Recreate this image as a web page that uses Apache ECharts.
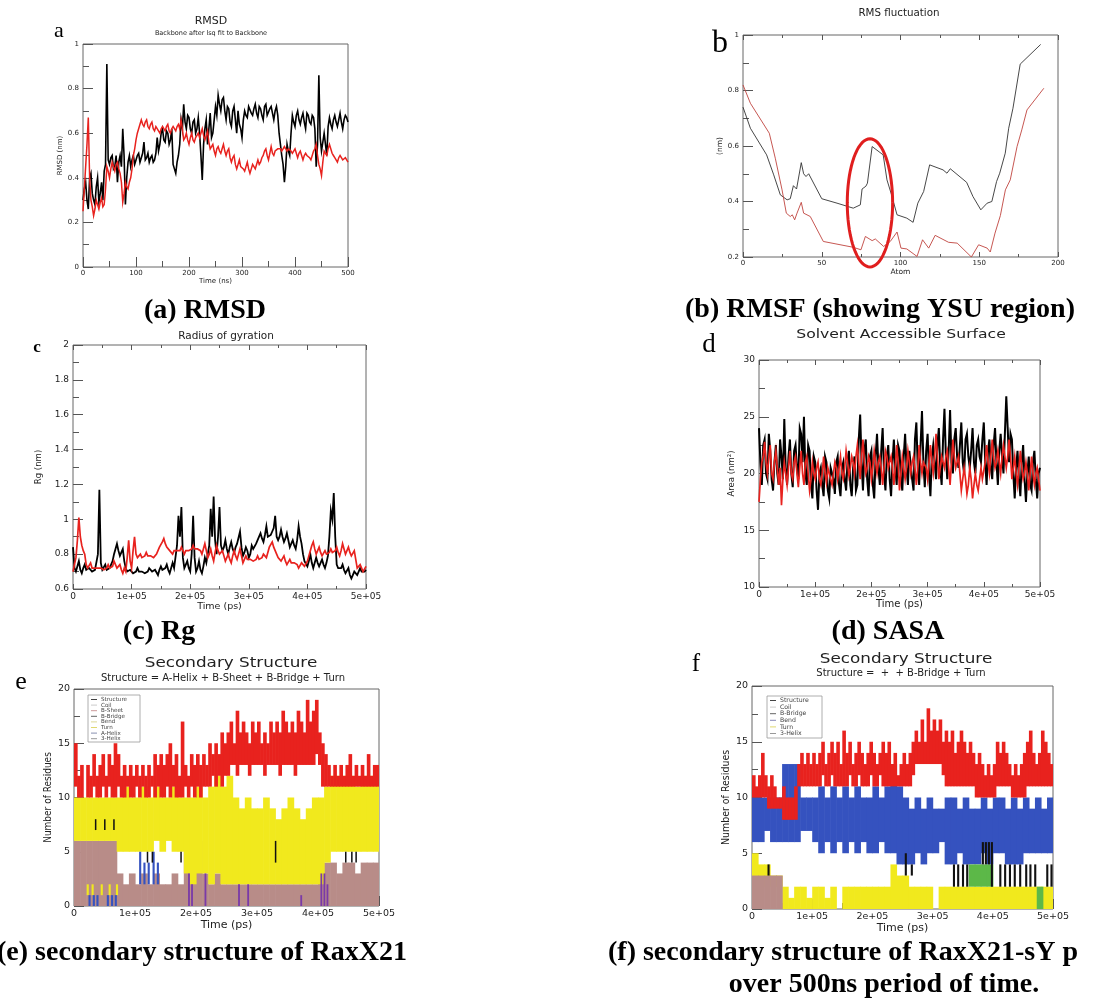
<!DOCTYPE html>
<html><head><meta charset="utf-8">
<script src="https://cdn.jsdelivr.net/npm/echarts@6/dist/echarts.min.js"></script>
<style>html,body{margin:0;padding:0;background:#fff}#c{width:1093px;height:1000px}</style>
</head><body><div id="c"></div>
<script>
// ---------------- DATA ----------------
// (a) RMSD, nm: samples every 5 ns (0..500), plus in-between samples at 2.5 + every 5 ns
const rmsdStepNs = 5;
const rmsdBlack = [0.30,0.38,0.26,0.42,0.30,0.36,0.29,0.38,0.43,0.91, 0.46,0.50,0.45,0.38,0.50,0.62,0.28,0.47,0.45,0.50,
  0.48,0.51,0.47,0.56,0.49,0.47,0.50,0.48,0.58,0.55, 0.62,0.56,0.60,0.57,0.46,0.42,0.50,0.66,0.73,0.62,
  0.67,0.60,0.66,0.62,0.60,0.39,0.62,0.55,0.69,0.60, 0.72,0.77,0.70,0.76,0.66,0.71,0.63,0.72,0.60,0.64,
  0.58,0.70,0.67,0.72,0.68,0.73,0.67,0.71,0.66,0.73, 0.68,0.72,0.66,0.72,0.60,0.50,0.38,0.55,0.50,0.68,
  0.63,0.70,0.64,0.69,0.62,0.68,0.64,0.67,0.45,0.86, 0.52,0.60,0.50,0.67,0.62,0.68,0.63,0.69,0.62,0.68, 0.65];
const rmsdBlackMid = [0.35,0.30,0.40,0.33,0.28,0.40,0.33,0.30,0.46,0.48, 0.49,0.44,0.50,0.47,0.45,0.50,0.40,0.50,0.48,0.46,
  0.50,0.47,0.51,0.48,0.51,0.49,0.47,0.51,0.52,0.60, 0.57,0.61,0.55,0.62,0.44,0.47,0.55,0.62,0.65,0.68,
  0.62,0.65,0.60,0.67,0.50,0.55,0.66,0.62,0.58,0.66, 0.68,0.73,0.75,0.70,0.72,0.65,0.70,0.66,0.70,0.62,
  0.66,0.68,0.72,0.69,0.71,0.69,0.72,0.68,0.72,0.68, 0.71,0.69,0.70,0.68,0.55,0.46,0.45,0.52,0.60,0.65,
  0.68,0.66,0.67,0.65,0.69,0.65,0.68,0.62,0.55,0.58, 0.56,0.55,0.63,0.64,0.66,0.65,0.66,0.65,0.66,0.67];
const rmsdRed = [0.25,0.45,0.67,0.30,0.23,0.30,0.26,0.31,0.28,0.45, 0.40,0.47,0.43,0.47,0.42,0.29,0.38,0.35,0.40,0.50,
  0.57,0.62,0.66,0.63,0.66,0.62,0.65,0.61,0.63,0.60, 0.63,0.61,0.64,0.60,0.63,0.61,0.64,0.66,0.57,0.60,
  0.55,0.60,0.56,0.59,0.58,0.62,0.57,0.61,0.53,0.55, 0.50,0.54,0.51,0.55,0.50,0.53,0.47,0.50,0.44,0.48,
  0.45,0.43,0.47,0.42,0.46,0.44,0.48,0.47,0.50,0.53, 0.48,0.54,0.50,0.52,0.53,0.52,0.54,0.52,0.53,0.51,
  0.53,0.49,0.52,0.48,0.51,0.50,0.48,0.52,0.55,0.46, 0.41,0.52,0.50,0.55,0.51,0.49,0.47,0.50,0.48,0.49, 0.47];
const rmsdRedMid = [0.35,0.55,0.40,0.27,0.26,0.28,0.29,0.27,0.35,0.43, 0.44,0.45,0.46,0.44,0.38,0.33,0.36,0.38,0.44,0.53,
  0.60,0.64,0.64,0.65,0.63,0.64,0.62,0.63,0.61,0.62, 0.62,0.63,0.61,0.62,0.62,0.63,0.62,0.62,0.58,0.57,
  0.58,0.57,0.58,0.60,0.60,0.59,0.59,0.56,0.54,0.52, 0.53,0.52,0.53,0.52,0.52,0.49,0.49,0.46,0.46,0.45,
  0.44,0.45,0.44,0.44,0.45,0.46,0.46,0.49,0.52,0.50, 0.51,0.51,0.52,0.53,0.53,0.53,0.53,0.53,0.52,0.52,
  0.51,0.51,0.50,0.50,0.50,0.49,0.50,0.53,0.50,0.44, 0.47,0.51,0.53,0.53,0.50,0.48,0.49,0.49,0.48,0.48];

// (b) RMSF, [atom, nm]
const rmsfBlack = [[0,0.74],[4.7,0.664],[15,0.568],[19.5,0.496],[23.7,0.424],[28,0.406],[30,0.41],[32,0.457],[34,0.445],
  [37,0.54],[38.5,0.50],[40,0.49],[41.7,0.50],[50,0.41],[59.7,0.394],[70,0.376],[74.5,0.388],[75.6,0.445],[78,0.455],
  [79,0.466],[82,0.598],[89,0.568],[91.4,0.478],[94,0.43],[97.8,0.352],[104,0.34],[108,0.325],[111,0.394],[114.7,0.436],
  [118.5,0.532],[127,0.514],[129.5,0.502],[131.6,0.518],[142,0.469],[146,0.418],[151,0.37],[155,0.394],[158,0.40],
  [161,0.472],[163,0.502],[166.5,0.574],[168.7,0.664],[171.4,0.736],[176,0.895],[189,0.966]];
const rmsfRed = [[0,0.82],[4.7,0.754],[16.7,0.646],[20.5,0.556],[24.8,0.442],[27.5,0.358],[30,0.346],[31.3,0.352],[32.8,0.334],
  [34.3,0.358],[37,0.397],[38.5,0.358],[42.7,0.346],[51,0.256],[70,0.235],[74.9,0.226],[77.7,0.274],[82,0.259],[84,0.265],
  [89.3,0.238],[93.5,0.256],[97.8,0.29],[100.3,0.232],[104,0.229],[110.5,0.202],[114,0.262],[117.9,0.232],[122,0.278],
  [130.5,0.253],[136,0.25],[145,0.2],[149.6,0.244],[155,0.232],[157,0.218],[160,0.286],[163.4,0.349],[166.6,0.442],
  [169.7,0.478],[174,0.598],[177,0.658],[180.3,0.73],[191,0.808]];
// highlighted YSU region: [centre atom, centre nm, half-width atoms, half-height nm]
const ysuEllipse = [80.6, 0.395, 14.4, 0.231];

// (c) Rg, nm: samples every 5000 ps, plus in-between samples at 2500 + every 5000 ps
const psStep = 5000;
const rgBlack = [0.84,0.70,0.76,0.69,0.74,0.70,0.73,0.69,0.72,1.17, 0.71,0.74,0.70,0.73,0.80,0.86,0.79,0.83,0.72,0.69,
  0.71,0.68,0.72,0.69,0.71,0.68,0.72,0.70,0.71,0.68, 0.73,0.70,0.74,0.69,0.75,0.71,1.02,1.07,0.72,0.76,
  0.70,1.02,0.70,0.76,0.69,0.78,0.74,1.06,1.13,0.80, 1.07,0.82,0.88,0.80,0.87,0.81,0.86,0.93,0.79,0.84,
  0.78,0.85,0.82,0.88,0.92,0.87,0.96,0.89,0.93,1.02, 0.88,0.94,0.87,0.92,0.84,0.88,0.83,0.96,0.86,0.76,
  0.73,0.80,0.72,0.78,0.73,0.77,0.72,0.79,1.05,1.15, 0.74,0.71,0.74,0.69,0.72,0.66,0.70,0.68,0.72,0.69, 0.71];
const rgBlackMid = [0.72,0.73,0.71,0.72,0.71,0.72,0.70,0.71,0.80,0.75, 0.72,0.71,0.72,0.76,0.83,0.82,0.81,0.76,0.70,0.71,
  0.69,0.70,0.70,0.70,0.69,0.70,0.71,0.69,0.70,0.71, 0.71,0.72,0.71,0.72,0.72,0.85,0.90,0.78,0.73,0.72,
  0.80,0.78,0.72,0.71,0.73,0.75,0.85,0.90,0.88,0.90, 0.85,0.84,0.83,0.84,0.83,0.84,0.87,0.84,0.81,0.82,
  0.80,0.83,0.86,0.90,0.89,0.91,0.90,0.91,0.95,0.90, 0.90,0.90,0.89,0.88,0.86,0.85,0.88,0.90,0.80,0.75,
  0.76,0.75,0.75,0.75,0.75,0.74,0.75,0.90,1.00,0.90, 0.72,0.72,0.71,0.70,0.68,0.68,0.69,0.70,0.70,0.70];
const rgRed = [0.70,0.78,1.01,0.85,0.80,0.72,0.75,0.71,0.73,0.71, 0.73,0.70,0.74,0.71,0.76,0.72,0.74,0.69,0.70,0.88,
  0.72,0.90,0.78,0.80,0.77,0.81,0.78,0.80,0.79,0.82, 0.85,0.89,0.84,0.82,0.80,0.83,0.81,0.84,0.80,0.83,
  0.81,0.85,0.82,0.84,0.80,0.86,0.78,0.83,0.76,0.85, 0.80,0.82,0.76,0.80,0.75,0.82,0.77,0.83,0.75,0.79,
  0.76,0.78,0.75,0.79,0.76,0.80,0.78,0.84,0.87,0.82, 0.78,0.76,0.79,0.74,0.77,0.74,0.76,0.72,0.75,0.73,
  0.76,0.82,0.87,0.80,0.84,0.79,0.82,0.79,0.83,0.80, 0.84,0.79,0.86,0.80,0.84,0.79,0.82,0.72,0.74,0.70, 0.73];
const rgRedMid = [0.74,0.88,0.90,0.82,0.74,0.73,0.72,0.72,0.72,0.72, 0.71,0.72,0.72,0.73,0.74,0.73,0.71,0.72,0.78,0.76,
  0.82,0.80,0.79,0.78,0.79,0.79,0.79,0.78,0.80,0.84, 0.87,0.86,0.83,0.81,0.82,0.82,0.82,0.82,0.82,0.82,
  0.83,0.83,0.83,0.82,0.83,0.82,0.80,0.79,0.81,0.82, 0.81,0.79,0.78,0.77,0.79,0.79,0.80,0.79,0.77,0.77,
  0.77,0.76,0.77,0.77,0.78,0.79,0.81,0.85,0.84,0.80, 0.77,0.77,0.76,0.75,0.75,0.75,0.74,0.73,0.74,0.74,
  0.79,0.85,0.83,0.82,0.81,0.80,0.80,0.81,0.81,0.82, 0.81,0.82,0.83,0.82,0.81,0.80,0.77,0.73,0.72,0.71];

// (d) SASA, nm^2: samples at every 5000 ps, plus in-between samples at 2500 + every 5000 ps
const sasaBlack = [24.0,19.0,23.0,19.5,22.0,18.5,22.5,19.0,21.5,24.8, 19.0,23.0,18.8,22.5,19.5,23.5,25.0,19.0,22.0,17.8,
  21.0,16.8,20.5,18.0,21.0,17.8,20.5,18.2,21.5,18.0, 21.0,18.5,22.0,18.0,21.5,19.0,25.2,18.5,23.0,18.0,
  22.0,17.8,23.5,19.0,24.0,18.5,22.5,18.0,23.0,19.0, 22.0,18.5,23.5,19.0,22.0,18.5,24.5,19.0,25.5,18.8,
  23.5,18.0,22.5,19.5,24.0,19.0,25.7,19.5,25.6,20.0, 24.0,20.5,24.5,20.0,23.5,20.5,24.0,20.0,23.0,21.0,
  24.5,19.0,23.0,19.5,24.0,19.0,23.5,20.0,26.8,21.0, 23.0,17.8,22.0,18.0,22.5,17.5,21.5,18.5,22.0,17.8, 20.5];
const sasaBlackMid = [21.0,22.5,20.0,23.5,19.5,21.0,20.0,23.0,19.5,20.5, 21.5,20.0,22.0,20.5,24.0,21.0,20.0,22.5,19.0,21.5,
  18.5,20.0,19.0,21.5,18.5,20.5,19.5,21.0,19.0,20.5, 19.5,21.0,19.0,20.5,18.5,23.0,21.0,22.0,19.5,21.5,
  19.0,21.5,20.5,22.0,20.0,21.5,19.5,21.0,20.5,22.5, 19.5,21.5,20.5,22.0,19.5,23.0,20.5,22.5,21.0,22.0,
  20.0,21.5,21.0,22.5,20.5,23.0,21.5,22.0,21.0,23.0, 21.5,22.5,21.0,23.0,21.5,22.0,21.0,22.5,21.5,23.0,
  21.0,22.0,20.5,22.5,21.0,22.0,21.5,23.5,24.0,23.5, 20.0,20.5,19.5,21.0,19.5,20.0,19.0,21.0,19.5,20.0];
const sasaRed = [17.5,21.0,22.8,20.0,22.5,19.5,22.0,19.0,17.2,21.0, 19.0,22.0,19.5,21.5,18.8,22.0,19.0,21.5,18.5,21.0,
  19.5,21.0,19.0,21.5,19.2,20.5,19.0,21.0,19.5,21.5, 19.5,22.0,19.8,21.5,20.0,22.5,19.5,23.0,20.0,21.5,
  19.5,22.0,20.0,21.5,19.0,22.0,20.5,21.5,19.0,22.5, 18.5,21.5,19.5,22.0,20.0,21.5,19.0,22.5,20.0,21.0,
  19.5,22.5,20.0,23.5,19.5,21.5,20.5,22.0,19.0,23.0, 20.5,21.5,18.5,20.5,18.2,20.5,17.8,20.0,18.5,20.5,
  19.5,22.5,20.0,23.0,20.5,22.0,20.0,22.5,20.5,23.0, 19.5,21.5,19.0,22.0,19.5,21.0,18.5,21.5,19.0,20.5, 18.5];
const sasaRedMid = [19.5,21.5,21.0,21.5,20.0,21.0,20.5,20.5,19.5,20.0, 20.5,20.0,21.0,20.0,20.5,20.0,21.0,20.0,19.5,20.0,
  20.5,19.5,20.0,20.0,20.5,19.5,20.0,20.5,20.5,20.0, 20.5,21.0,20.5,21.0,21.5,21.0,21.5,21.0,20.5,21.0,
  20.5,21.0,21.0,20.5,20.5,21.5,21.0,20.5,20.5,21.0, 20.0,20.5,20.5,21.0,21.0,20.5,20.5,21.0,21.0,20.5,
  21.0,21.0,21.5,21.5,20.5,21.0,21.5,20.5,21.0,21.5, 21.0,20.0,19.5,19.5,19.0,19.5,19.0,19.0,19.5,19.5,
  21.0,21.0,21.5,21.5,21.0,21.0,21.5,21.5,21.5,21.5, 20.5,20.0,20.5,20.5,20.0,20.0,20.0,20.0,20.0,19.5];

// (e) secondary structure of RaxX21 — residue counts; fine bins 5000 ps, coarse bins 10000 ps
const fineBin = 5000, coarseBin = 10000;
const eRedHi = [15,12,13,11,13,12,14,12,13,14, 12,14,13,15,14,12,13,12,13,12, 13,12,13,12,13,12,14,13,14,13,
  14,15,13,14,12,17,13,12,14,13, 14,13,14,13,15,14,15,14,16,15, 16,17,15,18,16,17,16,15,17,16,
  17,15,16,15,17,16,17,16,18,17, 16,17,16,18,17,16,19,17,18,19, 16,15,14,13,12,13,12,13,12,13,
  14,12,13,12,13,12,14,12,13,13];
const eRedLo = [11,10,10,11,10,10,11,10,10,11, 10,11,10,10,11,10,10,11,10,10, 11,10,11,10,10,11,10,11,10,10,
  11,10,11,10,10,10,11,10,11,10, 11,10,11,11,11,12,11,12,11,12, 12,13,13,12,13,13,13,12,13,13,
  13,13,12,13,13,13,13,12,13,13, 13,13,12,13,13,13,13,13,13,14, 13,11,11,11,11,11,11,11,11,11,
  11,11,11,11,11,11,11,11,11,11];
const eYellowLo = [6,6,6,6,6,6,6,5,5,5, 5,5,5,6,5,6,5,5,3,2, 3,3,2,3,2,2,2,2,2,2, 2,2,2,2,2,2,2,2,2,2, 2,4,5,5,5,5,5,5,5,5];
const eYellowHi = [10,10,10,10,10,10,10,10,11,10, 10,11,10,11,10,10,11,10,10,10, 11,10,11,12,11,12,10,9,10,9,
  9,10,9,8,9,10,9,8,9,10, 10,11,12,12,12,12,11,12,12,12];
const eBrownHi = [6,6,6,6,6,6,6,3,2,3, 2,3,2,3,2,2,3,2,5,7, 6,3,2,3,2,2,2,2,2,2, 2,2,2,2,2,2,2,2,2,2, 3,4,4,3,4,4,3,4,4,4];
// sparse strokes: [time ps, low, high]
const eYellowBits = [[22000,1,2],[30000,1,2],[45000,1,2],[58000,1,2],[70000,1,2]];
const eBlueBits = [[25000,0,1],[32000,0,1],[38000,0,1],[55000,0,1],[62000,0,1],[68000,0,1],
  [108000,2,5],[115000,2,4],[122000,2,4],[130000,2,5],[137000,2,4]];
const ePurpleBits = [[188000,0,3],[193000,0,2],[215000,0,3],[270000,0,2],[285000,0,2],[372000,0,1],
  [405000,0,3],[410000,0,3],[415000,0,2]];
const eBlackBits = [[35000,7,8],[50000,7,8],[65000,7,8],[120000,4,5],[128000,4,5],[175000,4,5],
  [330000,4,6],[445000,4,5],[455000,4,5],[462000,4,5]];

// (f) secondary structure of RaxX21-sY
const fRedHi = [12,11,12,14,12,11,12,11,10,10, 11,10,10,10,11,13,14,13,14,13, 14,13,14,15,13,14,15,14,15,13,
  16,14,15,13,14,15,14,13,14,15, 14,13,14,15,14,15,13,14,12,13, 14,13,14,15,16,15,17,15,18,16,
  17,16,17,15,16,15,16,14,15,16, 15,14,15,14,13,14,13,12,13,12, 13,15,14,15,14,13,12,13,12,13,
  14,15,16,14,13,14,16,15,14,13];
const fRedLo = [10,10,10,10,10,9,9,9,9,9, 8,8,8,8,8,11,11,11,11,11, 11,11,11,12,11,11,12,11,11,11,
  11,11,12,11,11,12,11,11,11,12, 11,11,12,11,11,11,11,11,11,11, 11,11,11,12,13,13,13,13,13,13,
  13,13,13,12,11,11,11,11,11,11, 11,11,11,11,10,10,10,10,10,10, 10,11,11,11,11,11,10,10,10,10,
  10,11,11,11,11,11,11,11,11,11];
const fBlueLo = [6,6,7,6,6,6,6,6,7,7, 6,5,6,5,6,5,6,5,6,5, 5,6,5,5,4,4,4,5,4,5, 5,6,4,4,5,4,4,4,5,4, 5,5,4,4,4,5,5,5,5,5];
const fBlueHi = [10,10,10,10,10,13,13,13,10,10, 10,11,10,11,10,11,10,11,10,10, 11,10,11,13,11,10,9,10,9,10,
  9,9,10,10,9,10,9,9,10,9, 10,10,9,10,9,10,9,10,9,10];
const fYellowLo = [0,2,2,2,2,0,0,0,0,0, 0,0,0,0,0,0,0,0,0,0, 0,0,0,0,0,0,0,0,0,0, 0,0,0,0,0,0,0,0,0,0, 0,0,0,0,0,0,0,0,0,0];
const fYellowHi = [5,4,4,3,3,2,1,2,2,1, 2,2,1,2,0,2,2,2,2,2, 2,2,2,4,3,3,2,2,2,2, 0,2,2,2,2,2,2,2,2,2, 2,2,2,2,2,2,2,2,2,2];
const fBrownHi = [3,3,3,3,3,0,0,0,0,0, 0,0,0,0,0,0,0,0,0,0, 0,0,0,0,0,0,0,0,0,0, 0,0,0,0,0,0,0,0,0,0, 0,0,0,0,0,0,0,0,0,0];
const fGreenBits = [[365000,2,4],[375000,2,4],[385000,2,4],[395000,2,4],[478000,0,2]];
const fBlackBits = [[27000,3,4],[255000,3,5],[265000,3,4],[335000,2,4],[342000,2,4],[350000,2,4],[357000,2,4],
  [383000,4,6],[388000,4,6],[393000,4,6],[398000,2,6],[412000,2,4],[420000,2,4],[428000,2,4],[436000,2,4],
  [445000,2,4],[455000,2,4],[462000,2,4],[470000,2,4],[490000,2,4],[497000,2,4]];

const eLegend = ['Structure','Coil','B-Sheet','B-Bridge','Bend','Turn','A-Helix','3-Helix'];
const fLegend = ['Structure','Coil','B-Bridge','Bend','Turn','3-Helix'];

// ---------------- LAYOUT ----------------
const chart = echarts.init(document.getElementById('c'));
const TICK = '#555';
const grids = [
  {left:83, top:44, width:265, height:223},
  {left:743, top:35, width:315, height:222},
  {left:73, top:345, width:293, height:244},
  {left:759, top:360, width:281, height:227},
  {left:74, top:689, width:305, height:217},
  {left:752, top:686, width:301, height:223}
].map(g => Object.assign(g, {show:true, borderColor:'#666', borderWidth:1, backgroundColor:'transparent', outerBoundsMode:'none', containLabel:false}));

const NARROW = '"Liberation Sans Narrow","DejaVu Sans Condensed","Liberation Sans",sans-serif';
const specs = [
  {x:[0,500,100], y:[0,1,0.2], lf:7, xName:'Time (ns)', xGap:11, yName:'RMSD (nm)', yGap:17, xnf:7, ynf:7, yfam:'DejaVu Sans'},
  {x:[0,200,50], y:[0.2,1,0.2], lf:7, xName:'Atom', xGap:11, yName:'(nm)', yGap:17, xnf:7.5, ynf:7.5, yfam:'DejaVu Sans'},
  {x:[0,5e5,1e5], y:[0.6,2,0.2], lf:9, xName:'Time (ps)', xGap:11, yName:'Rg (nm)', yGap:29, xnf:9.5, ynf:9.5, ps:true},
  {x:[0,5e5,1e5], y:[10,30,5], lf:9, xName:'Time (ps)', xGap:11, yName:'Area (nm²)', yGap:22, xnf:10, ynf:9.5, ps:true},
  {x:[0,5e5,1e5], y:[0,20,5], lf:9.5, xName:'Time (ps)', xGap:9, yName:'Number of Residues', yGap:21, xnf:11, ynf:10, ps:true},
  {x:[0,5e5,1e5], y:[0,20,5], lf:9.5, xName:'Time (ps)', xGap:9, yName:'Number of Residues', yGap:20, xnf:11, ynf:10.5, ps:true}
];
const psFmt = v => v === 0 ? '0' : (v / 1e5) + 'e+05';
const xAxes = [], yAxes = [];
const AX_PER = 5; // labelled axis + 2 tick-only axes for each side
// tick-only axis: placed inward by its tick length, ticks drawn outward -> they meet the frame from inside
function tickAxis(g, pos, range, interval, len) {
  return {gridIndex:g, type:'value', position:pos, offset:-len, min:range[0], max:range[1], interval,
    axisLine:{show:false}, axisLabel:{show:false}, splitLine:{show:false},
    axisTick:{show:true, inside:false, length:len, lineStyle:{color:TICK, width:1}}, silent:true};
}
specs.forEach((s, g) => {
  const lab = {fontSize:s.lf, fontFamily:'DejaVu Sans', color:'#222'};
  xAxes.push({gridIndex:g, type:'value', position:'bottom', min:s.x[0], max:s.x[1], interval:s.x[2],
    axisLine:{show:false}, axisTick:{show:false}, splitLine:{show:false},
    axisLabel:Object.assign({margin:3}, lab, s.ps ? {formatter:psFmt} : {}),
    name:s.xName, nameLocation:'middle', nameGap:s.xGap,
    nameTextStyle:{fontSize:s.xnf, fontFamily:'DejaVu Sans', color:'#222'}});
  xAxes.push(tickAxis(g, 'bottom', s.x, s.x[2], 5));
  xAxes.push(tickAxis(g, 'bottom', s.x, s.x[2] / 2, 3));
  xAxes.push(tickAxis(g, 'top', s.x, s.x[2], 5));
  xAxes.push(tickAxis(g, 'top', s.x, s.x[2] / 2, 3));
  yAxes.push({gridIndex:g, type:'value', position:'left', min:s.y[0], max:s.y[1], interval:s.y[2],
    axisLine:{show:false}, axisTick:{show:false}, splitLine:{show:false},
    axisLabel:Object.assign({margin:4}, lab),
    name:s.yName, nameLocation:'middle', nameGap:s.yGap,
    nameTextStyle:{fontSize:s.ynf, fontFamily:s.yfam || NARROW, color:'#222'}});
  yAxes.push(tickAxis(g, 'left', s.y, s.y[2], 5));
  yAxes.push(tickAxis(g, 'left', s.y, s.y[2] / 2, 3));
  yAxes.push(tickAxis(g, 'right', s.y, s.y[2], 5));
  yAxes.push(tickAxis(g, 'right', s.y, s.y[2] / 2, 3));
});

// ---------------- SERIES ----------------
const series = [];
const AX = g => ({xAxisIndex:AX_PER*g, yAxisIndex:AX_PER*g});
function line(g, pts, color, w) {
  series.push(Object.assign({type:'line', data:pts, showSymbol:false, symbol:'none',
    lineStyle:{color, width:w, join:'miter'}, silent:true, animation:false, clip:true}, AX(g)));
}
// merge on-grid samples with the in-between samples
const interleave = (main, mid, step) => {
  const out = [];
  main.forEach((v, i) => { out.push([i * step, v]); if (i < mid.length) out.push([i * step + step / 2, mid[i]]); });
  return out;
};
function rects(g, data, w, color) {
  series.push(Object.assign({type:'custom', data, silent:true, animation:false, clip:true,
    renderItem:(p, api) => {
      const x = api.value(0), lo = api.value(1), hi = api.value(2);
      if (!(hi > lo)) return null;
      const a = api.coord([x - w/2, hi]), b = api.coord([x + w/2, lo]);
      return {type:'rect', shape:{x:a[0], y:a[1], width:b[0]-a[0]+0.6, height:b[1]-a[1]}, style:{fill:color}};
    }}, AX(g)));
}
function band(g, lo, hi, binW, color) {
  rects(g, hi.map((h, i) => [i*binW + binW/2, Array.isArray(lo) ? lo[i] : lo, h]), binW, color);
}

const RED = '#e8221e', YEL = '#f1e91d', BROWN = '#b88c88', BLUE = '#3552bf', PURPLE = '#7a3aa8', GREEN = '#5cb848';

// (a)
line(0, interleave(rmsdBlack, rmsdBlackMid, rmsdStepNs), '#000', 1.6);
line(0, interleave(rmsdRed, rmsdRedMid, rmsdStepNs), RED, 1.5);
// (b)
line(1, rmsfBlack, '#333', 0.9);
line(1, rmsfRed, '#c0443e', 0.9);
series.push(Object.assign({type:'custom', data:[ysuEllipse], silent:true, animation:false, clip:false, z:10,
  renderItem:(p, api) => {
    const c = api.coord([api.value(0), api.value(1)]);
    const s = api.size([api.value(2), api.value(3)]);
    const pts = [];
    for (let k = 0; k <= 72; k++) { const t = k / 72 * 2 * Math.PI; pts.push([c[0] + s[0]*Math.cos(t), c[1] + s[1]*Math.sin(t)]); }
    return {type:'polyline', shape:{points:pts}, style:{stroke:'#e01e1e', lineWidth:3, fill:null}};
  }}, AX(1)));
// (c)
line(2, interleave(rgBlack, rgBlackMid, psStep), '#000', 1.8);
line(2, interleave(rgRed, rgRedMid, psStep), RED, 1.7);
// (d)
line(3, interleave(sasaBlack, sasaBlackMid, psStep), '#000', 2.0);
line(3, interleave(sasaRed, sasaRedMid, psStep), RED, 1.7);
// (e)
band(4, 0, eBrownHi, coarseBin, BROWN);
band(4, eYellowLo, eYellowHi, coarseBin, YEL);
band(4, eRedLo, eRedHi, fineBin, RED);
rects(4, eYellowBits, 2500, YEL);
rects(4, eBlueBits, 2500, BLUE);
rects(4, ePurpleBits, 2000, PURPLE);
rects(4, eBlackBits, 1500, '#111');
// (f)
band(5, fYellowLo, fYellowHi, coarseBin, YEL);
band(5, 0, fBrownHi, coarseBin, BROWN);
band(5, fBlueLo, fBlueHi, coarseBin, BLUE);
band(5, fRedLo, fRedHi, fineBin, RED);
rects(5, fGreenBits, 10000, GREEN);
rects(5, fBlackBits, 2500, '#111');

// ---------------- TEXT ----------------
function txt(x, y, text, font, o = {}) {
  return {type:'text', x, y, scaleX:o.sx || 1, z:100, silent:true,
    style:{text, x:0, y:0, font, fill:o.fill || '#000',
      textAlign:o.align || 'center', textVerticalAlign:'middle', align:o.align || 'center', verticalAlign:'middle'}};
}
const SERIF = '"Liberation Serif","Times New Roman",serif';
const CAP = 'bold 28px ' + SERIF;
const graphic = [
  txt(59, 31, 'a', '22px ' + SERIF),
  txt(720, 44, 'b', '32px ' + SERIF),
  txt(37, 348, 'c', 'bold 17px ' + SERIF),
  txt(709, 345, 'd', '27px ' + SERIF),
  txt(21, 682, 'e', '26px ' + SERIF),
  txt(696, 664, 'f', '25px ' + SERIF),
  txt(211, 21, 'RMSD', '11px "DejaVu Sans"', {fill:'#222'}),
  txt(211, 33, 'Backbone after lsq fit to Backbone', '6.5px "DejaVu Sans"', {fill:'#222'}),
  txt(899, 13, 'RMS fluctuation', '10.3px "DejaVu Sans"', {fill:'#222'}),
  txt(226, 336, 'Radius of gyration', '10.5px "DejaVu Sans"', {fill:'#222'}),
  txt(901, 335, 'Solvent Accessible Surface', '13px "DejaVu Sans"', {fill:'#222', sx:1.2}),
  txt(231, 663, 'Secondary Structure', '14px "DejaVu Sans"', {fill:'#222', sx:1.2}),
  txt(223, 678, 'Structure = A-Helix + B-Sheet + B-Bridge + Turn', '10px "DejaVu Sans"', {fill:'#222'}),
  txt(906, 659, 'Secondary Structure', '14px "DejaVu Sans"', {fill:'#222', sx:1.2}),
  txt(901, 673, 'Structure =  +  + B-Bridge + Turn', '10px "DejaVu Sans"', {fill:'#222'}),
  txt(205, 311, '(a) RMSD', CAP),
  txt(880, 310, '(b) RMSF (showing YSU region)', CAP),
  txt(159, 632, '(c) Rg', CAP),
  txt(888, 632, '(d) SASA', CAP),
  txt(-3, 953, '(e) secondary structure of RaxX21', CAP, {align:'left'}),
  txt(608, 953, '(f) secondary structure of RaxX21-sY p', CAP, {align:'left'}),
  txt(884, 985, 'over 500ns period of time.', CAP)
];
function legendBox(x, y, w, h, names, step, fs, colors) {
  graphic.push({type:'rect', z:99, silent:true, shape:{x, y, width:w, height:h}, style:{fill:'#fff', stroke:'#999', lineWidth:0.8}});
  names.forEach((n, k) => {
    const yy = y + 4.5 + k * step;
    graphic.push({type:'line', z:100, silent:true, shape:{x1:x+3, y1:yy, x2:x+9, y2:yy}, style:{stroke:colors[k], lineWidth:1}});
    graphic.push(txt(x + 13, yy, n, fs + 'px "DejaVu Sans"', {align:'left', fill:'#444'}));
  });
}
legendBox(88, 695, 52, 47, eLegend, 5.6, 5.6, ['#444','#ccc','#c99','#666','#dcd89a','#e0d870','#8890b0','#999']);
legendBox(767, 696, 55, 42, fLegend, 6.6, 6.2, ['#444','#ccc','#666','#8a8ab8','#e0d870','#999']);

chart.setOption({
  backgroundColor:'#fff', animation:false,
  grid:grids, xAxis:xAxes, yAxis:yAxes, series, graphic
});
</script></body></html>
